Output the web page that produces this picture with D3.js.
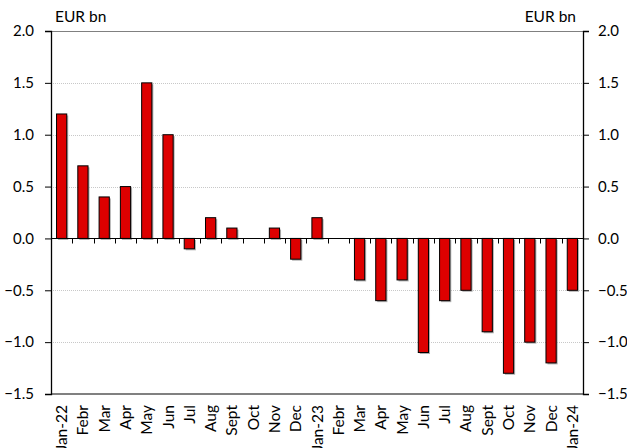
<!DOCTYPE html>
<html><head><meta charset="utf-8">
<script src="https://cdn.jsdelivr.net/npm/d3@7"></script>
<style>body{margin:0;background:#fff}svg{display:block}text{font-family:Lato,"Open Sans",sans-serif;fill:#000}</style>
</head><body><div id="c"></div>
<script>
const categories = ["Jan-22","Febr","Mar","Apr","May","Jun","Jul","Aug","Sept","Oct","Nov","Dec","Jan-23","Febr","Mar","Apr","May","Jun","Jul","Aug","Sept","Oct","Nov","Dec","Jan-24"];
const values = [1.2,0.7,0.4,0.5,1.5,1.0,-0.1,0.2,0.1,0,0.1,-0.2,0.2,0,-0.4,-0.6,-0.4,-1.1,-0.6,-0.5,-0.9,-1.3,-1.0,-1.2,-0.5];
const yTicks = [2.0,1.5,1.0,0.5,0.0,-0.5,-1.0,-1.5];
const unitLabel = "EUR bn";

const W=627,H=448;
const m={l:51,r:44,t:31,b:54};
const svg=d3.select("#c").append("svg").attr("width",W).attr("height",H);
const x=d3.scaleBand().domain(d3.range(categories.length)).range([m.l,W-m.r]).paddingInner(0.52).paddingOuter(0.26);
const xb=d3.scaleBand().domain(d3.range(categories.length)).range([m.l,W-m.r]);
const y=d3.scaleLinear().domain([-1.5,2.0]).range([H-m.b,m.t]);

// gridlines
svg.append("g").selectAll("line").data(yTicks.filter(v=>v!==0&&v!==2&&v!==-1.5)).join("line")
 .attr("x1",m.l).attr("x2",W-m.r).attr("y1",d=>Math.round(y(d))+0.5).attr("y2",d=>Math.round(y(d))+0.5)
 .attr("stroke","#c8c8c8").attr("stroke-dasharray","1,1");
// top border
svg.append("line").attr("x1",m.l).attr("x2",W-m.r).attr("y1",Math.round(y(2))+0.5).attr("y2",Math.round(y(2))+0.5).attr("stroke","#808080").attr("stroke-width",1.2);

// bars
const bars=svg.append("g");
bars.selectAll("rect.sh").data(values).join("rect").attr("class","sh")
 .attr("x",(d,i)=>x(i)+1.5).attr("width",x.bandwidth())
 .attr("y",d=>Math.min(y(d),y(0))+1.5).attr("height",d=>Math.abs(y(d)-y(0)))
 .attr("fill","#9a9a9a").attr("opacity",d=>d===0?0:0.8);
bars.selectAll("rect.b").data(values).join("rect").attr("class","b")
 .attr("x",(d,i)=>x(i)).attr("width",x.bandwidth())
 .attr("y",d=>Math.min(y(d),y(0))).attr("height",d=>Math.abs(y(d)-y(0)))
 .attr("fill","#dd0000").attr("stroke","#000").attr("stroke-width",1).attr("opacity",d=>d===0?0:1);

// zero line with category ticks
const z=Math.round(y(0))+0.5;
svg.append("line").attr("x1",m.l).attr("x2",W-m.r).attr("y1",z).attr("y2",z).attr("stroke","#000");
svg.append("g").selectAll("line").data(d3.range(1,categories.length)).join("line")
 .attr("x1",i=>Math.round(xb(i))+0.5).attr("x2",i=>Math.round(xb(i))+0.5).attr("y1",z).attr("y2",z+5).attr("stroke","#000");

// bottom border
svg.append("line").attr("x1",m.l).attr("x2",W-m.r).attr("y1",Math.round(y(-1.5))).attr("y2",Math.round(y(-1.5))).attr("stroke","#808080").attr("stroke-width",2);

// axes
const fmt=d3.format(".1f");
const la=svg.append("g").attr("transform",`translate(${m.l},0)`).call(d3.axisLeft(y).tickValues(yTicks).tickFormat(fmt).tickSize(6).tickPadding(11));
const ra=svg.append("g").attr("transform",`translate(${W-m.r},0)`).call(d3.axisRight(y).tickValues(yTicks).tickFormat(fmt).tickSize(6).tickPadding(9));
[la,ra].forEach(a=>{a.select(".domain").attr("stroke","#000").attr("stroke-width",1.3);a.selectAll("line").attr("stroke","#000");a.selectAll("text").style("font-size","15px").style("font-family","Lato, 'Open Sans', sans-serif");});

// x labels
svg.append("g").selectAll("text").data(categories).join("text")
 .attr("transform",(d,i)=>`translate(${x(i)+x.bandwidth()/2+5.5},${y(-1.5)+11}) rotate(-90)`)
 .attr("text-anchor","end").style("font-size","15.5px").text(d=>d);

// unit labels
svg.append("text").attr("x",55).attr("y",22).style("font-size","15.5px").text(unitLabel);
svg.append("text").attr("x",576).attr("y",22).attr("text-anchor","end").style("font-size","15.5px").text(unitLabel);
</script></body></html>
